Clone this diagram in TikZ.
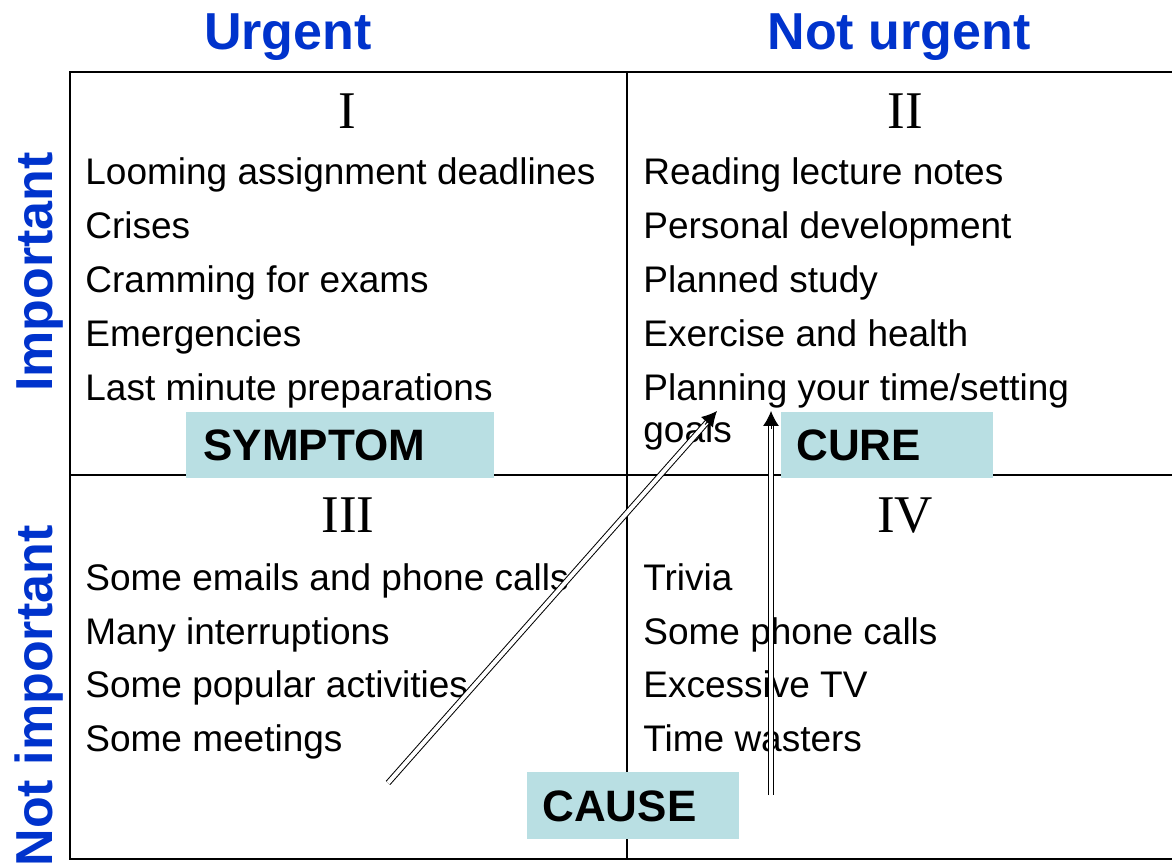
\documentclass[tikz,border=0pt]{standalone}
\usepackage{fontspec}
\setmainfont{Liberation Sans}
\newfontfamily\numfont{Liberation Serif}
\usetikzlibrary{arrows.meta,calc}
\definecolor{headblue}{RGB}{0,51,204}
\definecolor{tagfill}{RGB}{185,223,227}
\tikzset{
  head/.style={font=\fontsize{26}{30}\selectfont\bfseries, text=headblue, inner sep=0pt, anchor=base},
  item/.style={font=\fontsize{18.5}{21}\selectfont, inner sep=0pt, anchor=base west, align=left},
  numeral/.style={font=\numfont\fontsize{26.5}{30}\selectfont, inner sep=0pt, anchor=base},
  tag/.style={fill=tagfill, anchor=north west, inner ysep=0pt, align=left,
    font=\fontsize{22}{26}\selectfont\bfseries},
  frame/.style={line width=1.25pt},
  divider/.style={line width=0.75pt},
  shaft/.style={double, double distance=2pt, line width=0.5pt},
  tip/.style={-{Latex[length=7.5pt,width=8pt]}, line width=0.5pt}
}
\begin{document}
\begin{tikzpicture}[x=0.5pt, y=-0.5pt]
  \useasboundingbox (0,0) rectangle (1172,865);

  % matrix grid
  \draw[frame] (1172,72) -- (70,72) -- (70,859) -- (1172,859);
  \draw[divider] (627,72) -- (627,859);
  \draw[divider] (70,475) -- (1172,475);

  % axis headings
  \node[head] (urgent) at (288,50) {Urgent};
  \node[head] (noturgent) at (899,50) {Not urgent};
  \node[head, rotate=90] (important) at (52,272) {Important};
  \node[head, rotate=90] (notimportant) at (52,696) {Not important};

  % quadrant numerals
  \node[numeral] (q1) at (347,129) {I};
  \node[numeral] (q2) at (905,129) {II};
  \node[numeral] (q3) at (348,533) {III};
  \node[numeral] (q4) at (905,533) {IV};

  % quadrant I
  \node[item] (a1) at (85,185) {Looming assignment deadlines};
  \node[item] (a2) at (85,239) {Crises};
  \node[item] (a3) at (85,293) {Cramming for exams};
  \node[item] (a4) at (85,347) {Emergencies};
  \node[item] (a5) at (85,401) {Last minute preparations};

  % quadrant II (the two-line item is placed by the baseline of its last line)
  \node[item] (b1) at (643,185) {Reading lecture notes};
  \node[item] (b2) at (643,239) {Personal development};
  \node[item] (b3) at (643,293) {Planned study};
  \node[item] (b4) at (643,347) {Exercise and health};
  \node[item] (b5) at (643,443) {Planning your time/setting\\goals};

  % quadrant III
  \node[item] (c1) at (85,590) {Some emails and phone calls};
  \node[item] (c2) at (85,644) {Many interruptions};
  \node[item] (c3) at (85,697) {Some popular activities};
  \node[item] (c4) at (85,751) {Some meetings};

  % quadrant IV
  \node[item] (d1) at (643,590) {Trivia};
  \node[item] (d2) at (643,644) {Some phone calls};
  \node[item] (d3) at (643,697) {Excessive TV};
  \node[item] (d4) at (643,751) {Time wasters};

  % tags
  \node[tag, inner xsep=8.5pt, text width=137pt, minimum height=33pt] (symptom) at (186,412) {SYMPTOM};
  \node[tag, inner xsep=7.5pt, text width=91pt, minimum height=33pt] (cure) at (781,412) {CURE};
  \node[tag, inner xsep=7.5pt, text width=91pt, minimum height=33.5pt] (cause) at (527,772) {CAUSE};

  % arrows
  \coordinate (diagStart) at (388,783);
  \coordinate (diagEnd) at (717,411);
  \coordinate (vertStart) at (771,795);
  \coordinate (vertEnd) at (771,411);
  \draw[shaft, shorten >=6pt] (diagStart) -- (diagEnd);
  \draw[tip] ($(diagEnd)!9pt!(diagStart)$) -- (diagEnd);
  \draw[shaft, shorten >=6pt] (vertStart) -- (vertEnd);
  \draw[tip] ($(vertEnd)!9pt!(vertStart)$) -- (vertEnd);
\end{tikzpicture}
\end{document}
